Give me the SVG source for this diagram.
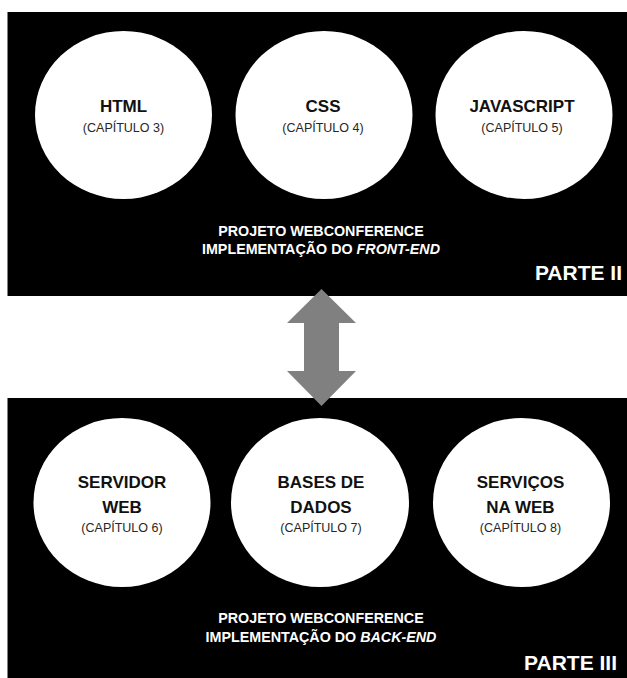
<svg xmlns="http://www.w3.org/2000/svg" width="627" height="678" viewBox="0 0 627 678">
<style>
.panel{fill:#000}
.node{fill:#fff}
.t{font-family:"Liberation Sans",Arial,sans-serif;font-weight:bold;font-size:17px;fill:#111;text-anchor:middle}
.s{font-family:"Liberation Sans",Arial,sans-serif;font-size:12.5px;fill:#262626;text-anchor:middle}
.d{font-family:"Liberation Sans",Arial,sans-serif;font-weight:bold;font-size:14.3px;fill:#fff;text-anchor:middle}
.p{font-family:"Liberation Sans",Arial,sans-serif;font-weight:bold;font-size:21px;fill:#fff;text-anchor:end}
.arrow{fill:#808080}
</style>
<rect width="627" height="678" fill="#fff"/>
<g id="parte2">
<rect class="panel" x="7.5" y="12" width="619.5" height="284"/>
<text class="d" x="321" y="236">PROJETO WEBCONFERENCE</text>
<text class="d" x="321" y="254">IMPLEMENTAÇÃO DO <tspan font-style="italic">FRONT-END</tspan></text>
<text class="p" x="622" y="280">PARTE II</text>
</g>
<g id="parte3">
<rect class="panel" x="7.5" y="398" width="619.5" height="280"/>
<text class="d" x="321" y="623">PROJETO WEBCONFERENCE</text>
<text class="d" x="321" y="642">IMPLEMENTAÇÃO DO <tspan font-style="italic">BACK-END</tspan></text>
<text class="p" x="617" y="670">PARTE III</text>
</g>
<g id="html">
<ellipse class="node" cx="123.5" cy="115" rx="88.5" ry="84"/>
<text class="t" x="123.5" y="112">HTML</text>
<text class="s" x="123.5" y="132">(CAPÍTULO 3)</text>
</g>
<g id="css">
<ellipse class="node" cx="324" cy="115" rx="88.5" ry="84"/>
<text class="t" x="323" y="112">CSS</text>
<text class="s" x="323" y="132">(CAPÍTULO 4)</text>
</g>
<g id="javascript">
<ellipse class="node" cx="524" cy="115" rx="88.5" ry="84"/>
<text class="t" x="522" y="112">JAVASCRIPT</text>
<text class="s" x="522" y="132">(CAPÍTULO 5)</text>
</g>
<g id="servidor">
<ellipse class="node" cx="122" cy="502.5" rx="88.5" ry="84.5"/>
<text class="t" x="122" y="488">SERVIDOR</text>
<text class="t" x="122" y="513">WEB</text>
<text class="s" x="122" y="532">(CAPÍTULO 6)</text>
</g>
<g id="bases">
<ellipse class="node" cx="320" cy="502.5" rx="89" ry="84.5"/>
<text class="t" x="321" y="488">BASES DE</text>
<text class="t" x="321" y="513">DADOS</text>
<text class="s" x="321" y="532">(CAPÍTULO 7)</text>
</g>
<g id="servicos">
<ellipse class="node" cx="521.5" cy="502.5" rx="88.5" ry="84.5"/>
<text class="t" x="520.5" y="488">SERVIÇOS</text>
<text class="t" x="520.5" y="513">NA WEB</text>
<text class="s" x="520.5" y="532">(CAPÍTULO 8)</text>
</g>
<g id="connectors">
<polygon class="arrow" points="321.5,289 356,323 339,323 339,371 356,371 321.5,406 287,371 304,371 304,323 287,323"/>
</g>
</svg>
